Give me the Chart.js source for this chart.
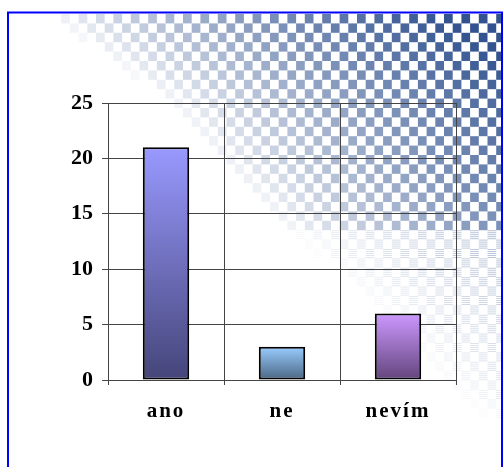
<!DOCTYPE html>
<html><head><meta charset="utf-8">
<script src="https://cdn.jsdelivr.net/npm/chart.js@4"></script>
<style>html,body{margin:0;padding:0;background:#fff}canvas{display:block}</style>
</head><body>
<canvas id="c" width="504" height="467"></canvas>
<script>
const categories = ['ano', 'ne', 'nevím'];
const values = [21, 3, 6];
const yMin = 0, yMax = 25, yStep = 5;
const barTopColors = ['#9999FF', '#99CCFF', '#CC99FF'];
const barBottomColors = ['#45457A', '#4A6682', '#63447C'];

function gradFill(ctx) {
  const chart = ctx.chart;
  const y = chart.scales && chart.scales.y;
  const i = ctx.dataIndex;
  if (!y || !chart.chartArea || ctx.raw === undefined) return barTopColors[i];
  const top = y.getPixelForValue(ctx.raw);
  const bot = y.getPixelForValue(0);
  const g = chart.ctx.createLinearGradient(0, top, 0, bot);
  g.addColorStop(0, barTopColors[i]);
  g.addColorStop(1, barBottomColors[i]);
  return g;
}

const bgPlugin = {
  id: 'bg',
  beforeDraw(chart) {
    const sx = chart.scales.x;
    if (sx && !sx._lsPatched) {
      const orig = sx.drawLabels;
      sx.drawLabels = function (area) {
        const cx = this.ctx;
        cx.save();
        cx.letterSpacing = '2px';
        orig.call(this, area);
        cx.restore();
      };
      sx._lsPatched = true;
    }
    const c = chart.ctx;
    c.save();
    c.fillStyle = '#fff';
    c.fillRect(0, 0, chart.width, chart.height);
    const x0 = 9, y0 = 14, x1 = 501, y1 = chart.height;
    const cw = 8.7, ch = 9.4;
    const bx = [[0, 30], [15, 45], [100, 165], [160, 215], [230, 285], [300, 365], [380, 440], [450, 520], [600, 600]];
    function xb(y) {
      for (let k = 0; k < bx.length - 1; k++) {
        if (y >= bx[k][0] && y <= bx[k + 1][0]) {
          const t = (y - bx[k][0]) / (bx[k + 1][0] - bx[k][0]);
          return bx[k][1] + t * (bx[k + 1][1] - bx[k][1]);
        }
      }
      return 600;
    }
    c.beginPath();
    c.rect(x0, y0, x1 - x0, y1 - y0);
    c.clip();
    for (let j = 0; y0 + j * ch < y1; j++) {
      for (let i = 0; x0 + i * cw < x1; i++) {
        if ((i + j) % 2) continue;
        const cx = x0 + i * cw, cy = y0 + j * ch;
        let a = (cx + cw / 2 - xb(cy + ch / 2)) / 400;
        a = Math.max(0, Math.min(1, a));
        if (a <= 0.01) continue;
        a = Math.pow(a, 0.75) * 0.97;
        if (cy > 222) {
          c.fillStyle = 'rgba(43,77,140,' + (a * 0.6) + ')';
          for (let s = 0; s < ch - 1; s += 2) c.fillRect(cx, cy + s, cw, 1);
        } else {
          c.fillStyle = 'rgba(43,77,140,' + a + ')';
          c.fillRect(cx, cy, cw, ch);
        }
      }
    }
    c.restore();
    c.save();
    c.strokeStyle = '#0000FF';
    c.lineWidth = 2;
    c.strokeRect(8, 12.5, 494, 520);
    c.restore();
  }
};

new Chart(document.getElementById('c'), {
  type: 'bar',
  data: {
    labels: categories,
    datasets: [{
      data: values,
      backgroundColor: gradFill,
      borderColor: '#000',
      borderWidth: 2,
      borderSkipped: false,
      barPercentage: 0.4,
      categoryPercentage: 1.0
    }]
  },
  options: {
    responsive: false,
    animation: false,
    devicePixelRatio: 1,
    layout: { padding: { left: 0, right: 48, top: 103, bottom: 0 } },
    plugins: { legend: { display: false }, tooltip: { enabled: false } },
    scales: {
      x: {
        offset: true,
        grid: { offset: true, color: '#444', lineWidth: 1, tickLength: 5, drawOnChartArea: true },
        border: { color: '#444', width: 1 },
        ticks: { color: '#000', padding: 14, font: { family: 'Liberation Serif', size: 21, weight: 'bold' } },
        afterFit(s) { s.height = 87; }
      },
      y: {
        min: yMin, max: yMax,
        grid: { color: '#444', lineWidth: 1, tickLength: 6 },
        border: { color: '#444', width: 1 },
        ticks: { stepSize: yStep, color: '#000', padding: 9, font: { family: 'Liberation Serif', size: 22, weight: 'bold' } },
        afterFit(s) { s.width = 108; }
      }
    }
  },
  plugins: [bgPlugin]
});
</script>
</body></html>
